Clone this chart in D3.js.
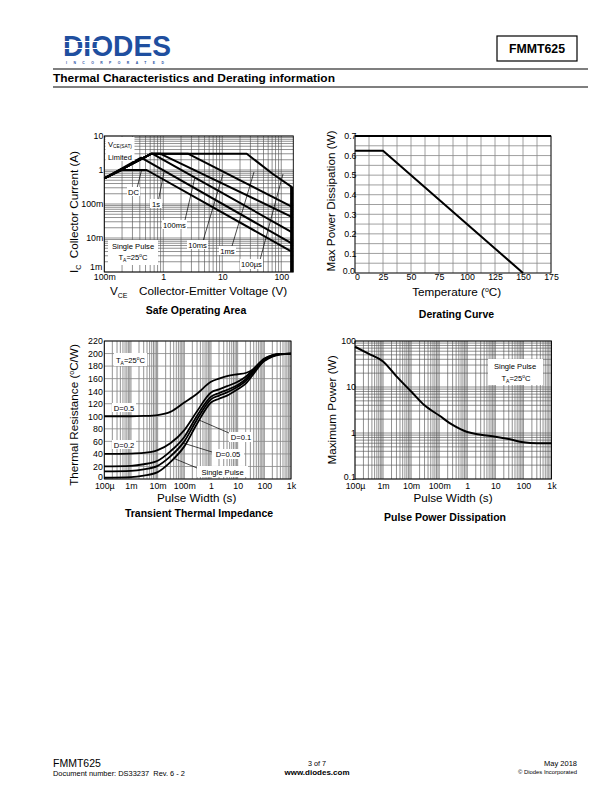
<!DOCTYPE html>
<html><head><meta charset="utf-8">
<script src="https://cdn.jsdelivr.net/npm/d3@7"></script>
<style>body{margin:0;background:#fff}svg{display:block}</style>
</head><body><svg id="c" width="612" height="792"></svg>
<script>
// ---------------- DATA ----------------
// Safe Operating Area (VCE [V], IC [A])
const soaSatLimit = [[0.1,0.57],[0.62,3]];
const soaDC    = [[0.1,0.57],[0.2,1],[0.52,1],[150,0.004]];
const soa1s    = [[0.1,0.57],[0.42,2.3],[150,0.007]];
const soa100ms = [[0.1,0.57],[0.62,3],[0.66,3],[150,0.015]];
const soa10ms  = [[0.1,0.57],[0.62,3],[0.9,3],[150,0.042]];
const soa1ms   = [[0.1,0.57],[0.62,3],[2.66,3],[150,0.084]];
const soa100us = [[0.1,0.57],[0.62,3],[26,3],[73,0.75],[150,0.32],[150,0.001]];
const soaXTicks = [0.1,1,10,100];
const soaXLabels = ["100m","1","10","100"];
const soaYTicks = [10,1,0.1,0.01,0.001];
const soaYLabels = ["10","1","100m","10m","1m"];

// Derating curve (Temperature [°C], Pd [W])
const deratingTemp = [0,25,150];
const deratingPower = [0.625,0.625,0];
const deratingXTicks = [0,25,50,75,100,125,150,175];
const deratingYTicks = [0,0.1,0.2,0.3,0.4,0.5,0.6,0.7];
const deratingYLabels = ["0.0","0.1","0.2","0.3","0.4","0.5","0.6","0.7"];

// Transient thermal impedance (pulse width [s], Rth [°C/W])
const zthTime   = [0.0001,0.001,0.003,0.01,0.03,0.1,0.3,1,2,4,10,20,40,100,200,400,1000];
const zthD05    = [100,100,100.5,102,107,122,136,155,160,164,167,169,175,188,195,198.5,199.5];
const zthD02    = [40,40.5,41.5,46,57,78,108,138,143,148,155,163,176,192,197.5,199.5,200];
const zthD01    = [20,21,23.5,29,44,67,101,131,137,142,150,159,173,191,197,199.5,200];
const zthD005   = [12,13,15.5,21,36,60,95,127,133,138,147,156,171,190,196.5,199.5,200];
const zthSingle = [2,3,5.5,11,27,52,88,122,128,133,143,152,168,189,196,199,200];
const timeTicks = [0.0001,0.001,0.01,0.1,1,10,100,1000];
const timeLabels = ["100\u00b5","1m","10m","100m","1","10","100","1k"];
const zthYTicks = [0,20,40,60,80,100,120,140,160,180,200,220];

// Pulse power dissipation (pulse width [s], P [W])
const ppdTime  = [0.0001,0.0003,0.001,0.003,0.01,0.03,0.1,0.3,1,3,10,30,100,300,1000];
const ppdPower = [75,53,36,17,8,4,2.4,1.5,1.05,0.92,0.83,0.74,0.63,0.6,0.6];
const ppdYTicks = [0.1,1,10,100];
const ppdYLabels = ["0.1","1","10","100"];

// ---------------- DRAWING ----------------
const FONT = '"Liberation Sans", Arial, Helvetica, sans-serif';
const svg = d3.select("#c").attr("font-family", FONT);

function logGrid(min, max) {
  const v = [];
  for (let e = Math.floor(Math.log10(min)); e <= Math.ceil(Math.log10(max)); e++)
    for (let k = 1; k <= 9; k++) {
      const x = k * Math.pow(10, e);
      if (x >= min * 0.9999 && x <= max * 1.0001) v.push(x);
    }
  return v;
}
function grid(g, x, y, xv, yv, col, w) {
  g.append("g").selectAll("line").data(xv).join("line")
    .attr("x1", d => x(d)).attr("x2", d => x(d))
    .attr("y1", y.range()[0]).attr("y2", y.range()[1])
    .attr("stroke", col).attr("stroke-width", w);
  g.append("g").selectAll("line").data(yv).join("line")
    .attr("y1", d => y(d)).attr("y2", d => y(d))
    .attr("x1", x.range()[0]).attr("x2", x.range()[1])
    .attr("stroke", col).attr("stroke-width", w);
}
function frame(g, x, y, w) {
  g.append("rect").attr("x", x.range()[0]).attr("y", y.range()[1])
    .attr("width", x.range()[1] - x.range()[0]).attr("height", y.range()[0] - y.range()[1])
    .attr("fill", "none").attr("stroke", "#000").attr("stroke-width", w || 0.9);
}
function axisText(g, axis) {
  g.call(axis);
  g.select(".domain").remove();
  g.attr("font-family", FONT).attr("font-size", 8.8);
  g.selectAll("text").attr("fill", "#000");
  return g;
}
// nudge the label sitting at the plot's corner so it does not sit on the other axis' label
function nudgeFirst(g, dx, dy, lastInstead) {
  const t = g.selectAll(".tick");
  const n = t.size();
  t.filter((d, i) => lastInstead ? i === n - 1 : i === 0).select("text")
    .attr("transform", `translate(${dx},${dy})`);
}
function labelBox(g, x, y, w, h) {
  g.append("rect").attr("x", x).attr("y", y).attr("width", w).attr("height", h).attr("fill", "#fff");
}
function txt(g, x, y, s, size, anchor) {
  return g.append("text").attr("x", x).attr("y", y).attr("font-size", size || 7.6)
    .attr("text-anchor", anchor || "start").attr("fill", "#000").text(s);
}
function pointer(g, x1, y1, x2, y2) {
  g.append("line").attr("x1", x1).attr("y1", y1).attr("x2", x2).attr("y2", y2)
    .attr("stroke", "#000").attr("stroke-width", 0.7);
}
function taLabel(g, x, y, size, anchor) {
  const t = g.append("text").attr("x", x).attr("y", y).attr("font-size", size)
    .attr("text-anchor", anchor || "start").attr("fill", "#000");
  t.append("tspan").text("T");
  t.append("tspan").attr("font-size", size * 0.65).attr("dy", 2).text("A");
  t.append("tspan").attr("dy", -2).text("=25");
  t.append("tspan").attr("font-size", size * 0.65).attr("dy", -3).text("o");
  t.append("tspan").attr("dy", 3).text("C");
  return t;
}

// ---- Header ----
const logo = svg.append("g");
logo.append("text").attr("x", 63).attr("y", 56).attr("font-weight", "bold").attr("font-size", 30)
  .attr("fill", "#1f4f9f").attr("textLength", 108).attr("lengthAdjust", "spacingAndGlyphs").text("DIODES");
[41.5, 48.5].forEach(yy => logo.append("line").attr("x1", 62).attr("x2", 104).attr("y1", yy).attr("y2", yy)
  .attr("stroke", "#fff").attr("stroke-width", 1.1));
logo.append("text").attr("x", 66).attr("y", 64).attr("font-size", 3.4).attr("font-weight", "bold")
  .attr("fill", "#1f4f9f").attr("textLength", 98).attr("lengthAdjust", "spacing").text("INCORPORATED");
svg.append("rect").attr("x", 497).attr("y", 36).attr("width", 80).attr("height", 25)
  .attr("fill", "none").attr("stroke", "#000").attr("stroke-width", 1.2);
txt(svg, 537, 53, "FMMT625", 12.3, "middle").attr("font-weight", "bold");
svg.append("line").attr("x1", 53).attr("x2", 588).attr("y1", 69).attr("y2", 69).attr("stroke", "#000").attr("stroke-width", 1.2);
svg.append("line").attr("x1", 53).attr("x2", 588).attr("y1", 87).attr("y2", 87).attr("stroke", "#000").attr("stroke-width", 1.2);
txt(svg, 53, 82, "Thermal Characteristics and Derating information", 11.8).attr("font-weight", "bold")
  .attr("textLength", 282).attr("lengthAdjust", "spacingAndGlyphs");

// ---- Footer ----
txt(svg, 53, 767, "FMMT625", 10.5);
txt(svg, 53, 775.5, "Document number: DS33237\u00a0 Rev. 6 - 2", 7).attr("textLength", 132).attr("lengthAdjust", "spacingAndGlyphs");
txt(svg, 317, 766, "3 of 7", 7.2, "middle");
txt(svg, 317, 775, "www.diodes.com", 8, "middle").attr("font-weight", "bold");
txt(svg, 577, 766, "May 2018", 7.5, "end");
txt(svg, 577, 774, "\u00a9 Diodes Incorporated", 5.9, "end");

// ================= Safe Operating Area =================
{
  const g = svg.append("g");
  const x = d3.scaleLog().domain([0.1, 160]).range([104.3, 293.3]);
  const y = d3.scaleLog().domain([0.001, 10]).range([272, 136]);
  grid(g, x, y, logGrid(0.1, 160), logGrid(0.001, 10), "#555", 0.65);
  frame(g, x, y);
  const line = d3.line().x(d => x(d[0])).y(d => y(d[1]));
  [soaDC, soa1s, soa100ms, soa10ms, soa1ms, soaSatLimit].forEach(s =>
    g.append("path").attr("d", line(s)).attr("fill", "none").attr("stroke", "#000")
      .attr("stroke-width", 2).attr("stroke-linejoin", "round"));
  g.append("path").attr("d", line(soa100us)).attr("fill", "none").attr("stroke", "#000")
    .attr("stroke-width", 2).attr("stroke-linejoin", "round");
  g.append("line").attr("x1", x(150)).attr("x2", x(150)).attr("y1", y(0.32)).attr("y2", y(0.001))
    .attr("stroke", "#000").attr("stroke-width", 3);

  axisText(g.append("g").attr("transform", `translate(0,${y.range()[0]})`),
    d3.axisBottom(x).tickValues(soaXTicks).tickFormat((d, i) => soaXLabels[i]).tickSize(0).tickPadding(1.5));
  const ya = axisText(g.append("g").attr("transform", `translate(${x.range()[0]},0)`),
    d3.axisLeft(y).tickValues(soaYTicks).tickFormat((d, i) => soaYLabels[i]).tickSize(0).tickPadding(1));
  nudgeFirst(ya, -1, -5, true);

  // annotations
  labelBox(g, 105.5, 137, 29, 24);
  const v = g.append("text").attr("x", 108).attr("y", 146.5).attr("font-size", 7.6);
  v.append("tspan").text("V");
  v.append("tspan").attr("font-size", 4.8).attr("dy", 1.5).text("CE(SAT)");
  txt(g, 108, 159.5, "Limited", 7.4);

  pointer(g, 137, 188, 141.5, 170.5);
  labelBox(g, 127, 187, 13, 9); txt(g, 133.5, 194.5, "DC", 7.6, "middle");
  pointer(g, 158.5, 200, 164, 172);
  labelBox(g, 150, 199, 12, 9); txt(g, 156, 206.5, "1s", 7.6, "middle");
  pointer(g, 185, 220, 195, 177);
  labelBox(g, 162, 220, 25, 9); txt(g, 174.5, 227.5, "100ms", 7.6, "middle");
  pointer(g, 203, 241, 223, 174);
  labelBox(g, 187, 240, 21, 9); txt(g, 197.5, 247.5, "10ms", 7.6, "middle");
  pointer(g, 232, 246, 254, 172);
  labelBox(g, 219, 246, 17, 9); txt(g, 227.5, 253.5, "1ms", 7.6, "middle");
  pointer(g, 260, 260, 283, 174);
  labelBox(g, 240, 259, 23, 10); txt(g, 251.5, 267, "100\u00b5s", 7.6, "middle");

  labelBox(g, 108, 240, 50, 25);
  txt(g, 133, 248.5, "Single Pulse", 7.6, "middle");
  taLabel(g, 133, 259.5, 7.6, "middle");

  // titles
  const xt = g.append("text").attr("x", 110).attr("y", 294.5).attr("font-size", 11.7);
  xt.append("tspan").text("V");
  xt.append("tspan").attr("font-size", 7).attr("dy", 3).text("CE");
  txt(g, 139, 294.5, "Collector-Emitter Voltage (V)", 11.7);
  const yt = g.append("text").attr("transform", "translate(78,212) rotate(-90)")
    .attr("text-anchor", "middle").attr("font-size", 11.7);
  yt.append("tspan").text("I");
  yt.append("tspan").attr("font-size", 7).attr("dy", 3).text("C");
  yt.append("tspan").attr("dy", -3).text("\u00a0 Collector Current (A)");
  txt(g, 196, 314, "Safe Operating Area", 10.5, "middle").attr("font-weight", "bold");
}

// ================= Derating Curve =================
{
  const g = svg.append("g");
  const x = d3.scaleLinear().domain([0, 175]).range([355, 551]);
  const y = d3.scaleLinear().domain([0, 0.7]).range([273, 136]);
  grid(g, x, y, d3.range(0, 175.01, 12.5), d3.range(0, 0.7001, 0.05), "#888", 0.8);
  frame(g, x, y, 0.8);
  g.append("line").attr("x1", 355).attr("x2", 551).attr("y1", 136).attr("y2", 136)
    .attr("stroke", "#000").attr("stroke-width", 2);
  const line = d3.line().x((d, i) => x(deratingTemp[i])).y(d => y(d));
  g.append("path").attr("d", line(deratingPower)).attr("fill", "none").attr("stroke", "#000")
    .attr("stroke-width", 2);
  const xa = axisText(g.append("g").attr("transform", `translate(0,${y.range()[0]})`),
    d3.axisBottom(x).tickValues(deratingXTicks).tickFormat(d3.format("d")).tickSize(0).tickPadding(0.5));
  const ya = axisText(g.append("g").attr("transform", `translate(${x.range()[0] + 1.5},0)`),
    d3.axisLeft(y).tickValues(deratingYTicks).tickFormat((d, i) => deratingYLabels[i]).tickSize(0).tickPadding(0));
  nudgeFirst(ya, -1.5, -2.5, false);
  nudgeFirst(xa, 2, 0.5, false);
  const xt = g.append("text").attr("x", 456.7).attr("y", 296).attr("text-anchor", "middle").attr("font-size", 11.7);
  xt.append("tspan").text("Temperature (");
  xt.append("tspan").attr("font-size", 7).attr("dy", -4).text("o");
  xt.append("tspan").attr("dy", 4).text("C)");
  g.append("text").attr("transform", "translate(334.5,201) rotate(-90)").attr("text-anchor", "middle")
    .attr("font-size", 11.7).text("Max Power Dissipation (W)");
  txt(g, 456.5, 318, "Derating Curve", 10.5, "middle").attr("font-weight", "bold");
}

// ================= Transient Thermal Impedance =================
{
  const g = svg.append("g");
  const x = d3.scaleLog().domain([0.0001, 1000]).range([104.3, 291]);
  const y = d3.scaleLinear().domain([0, 220]).range([479, 341]);
  g.append("g").selectAll("line").data(logGrid(0.0001, 1000)).join("line")
    .attr("x1", d => x(d)).attr("x2", d => x(d)).attr("y1", 479).attr("y2", 341)
    .attr("stroke", "#777").attr("stroke-width", 0.8);
  g.append("g").selectAll("line").data(zthYTicks).join("line")
    .attr("y1", d => y(d)).attr("y2", d => y(d)).attr("x1", 104.3).attr("x2", 291)
    .attr("stroke", "#888").attr("stroke-width", 0.8);
  frame(g, x, y);
  const line = d3.line().x((d, i) => x(zthTime[i])).y(d => y(d)).curve(d3.curveMonotoneX);
  [zthD05, zthD02, zthD01, zthD005, zthSingle].forEach(s =>
    g.append("path").attr("d", line(s)).attr("fill", "none").attr("stroke", "#000").attr("stroke-width", 1.8));
  axisText(g.append("g").attr("transform", `translate(0,479)`),
    d3.axisBottom(x).tickValues(timeTicks).tickFormat((d, i) => timeLabels[i]).tickSize(0).tickPadding(3.5));
  const ya = axisText(g.append("g").attr("transform", `translate(104.3,0)`),
    d3.axisLeft(y).tickValues(zthYTicks).tickFormat(d3.format("d")).tickSize(0).tickPadding(1.5));
  nudgeFirst(ya, 0, -2.5, false);

  labelBox(g, 114, 353, 33, 13);
  taLabel(g, 130.5, 362.5, 7.6, "middle");
  labelBox(g, 112, 403, 24, 9); txt(g, 124, 410.5, "D=0.5", 7.6, "middle");
  labelBox(g, 112, 440, 24, 9); txt(g, 124, 447.5, "D=0.2", 7.6, "middle");
  pointer(g, 229, 433, 199, 420);
  labelBox(g, 229, 432, 24, 10); txt(g, 241, 440, "D=0.1", 7.6, "middle");
  pointer(g, 212, 452, 183, 443);
  labelBox(g, 212, 449, 32, 10); txt(g, 228, 457, "D=0.05", 7.6, "middle");
  pointer(g, 197, 468, 173, 458);
  labelBox(g, 197, 466, 51, 11); txt(g, 222.5, 474.5, "Single Pulse", 7.6, "middle");

  txt(g, 196.7, 501.5, "Pulse Width (s)", 11.7, "middle");
  const yt = g.append("text").attr("transform", "translate(78,415) rotate(-90)")
    .attr("text-anchor", "middle").attr("font-size", 11.7);
  yt.append("tspan").text("Thermal Resistance (");
  yt.append("tspan").attr("font-size", 7).attr("dy", -4).text("o");
  yt.append("tspan").attr("dy", 4).text("C/W)");
  txt(g, 199, 517, "Transient Thermal Impedance", 10.5, "middle").attr("font-weight", "bold");
}

// ================= Pulse Power Dissipation =================
{
  const g = svg.append("g");
  const x = d3.scaleLog().domain([0.0001, 1000]).range([355, 551.5]);
  const y = d3.scaleLog().domain([0.1, 100]).range([479, 341]);
  grid(g, x, y, logGrid(0.0001, 1000), logGrid(0.1, 100), "#555", 0.65);
  frame(g, x, y);
  const line = d3.line().x((d, i) => x(ppdTime[i])).y(d => y(d)).curve(d3.curveMonotoneX);
  g.append("path").attr("d", line(ppdPower)).attr("fill", "none").attr("stroke", "#000").attr("stroke-width", 2);
  axisText(g.append("g").attr("transform", `translate(0,479)`),
    d3.axisBottom(x).tickValues(timeTicks).tickFormat((d, i) => timeLabels[i]).tickSize(0).tickPadding(3.5));
  const ya = axisText(g.append("g").attr("transform", `translate(356,0)`),
    d3.axisLeft(y).tickValues(ppdYTicks).tickFormat((d, i) => ppdYLabels[i]).tickSize(0).tickPadding(0));
  nudgeFirst(ya, 0, -2.5, false);

  labelBox(g, 488, 359, 55, 26);
  txt(g, 515, 368.5, "Single Pulse", 7.6, "middle");
  taLabel(g, 516, 380.5, 7.6, "middle");

  txt(g, 453, 501.5, "Pulse Width (s)", 11.7, "middle");
  g.append("text").attr("transform", "translate(336,410) rotate(-90)").attr("text-anchor", "middle")
    .attr("font-size", 11.7).text("Maximum Power (W)");
  txt(g, 445, 520.5, "Pulse Power Dissipation", 10.5, "middle").attr("font-weight", "bold");
}
</script></body></html>
